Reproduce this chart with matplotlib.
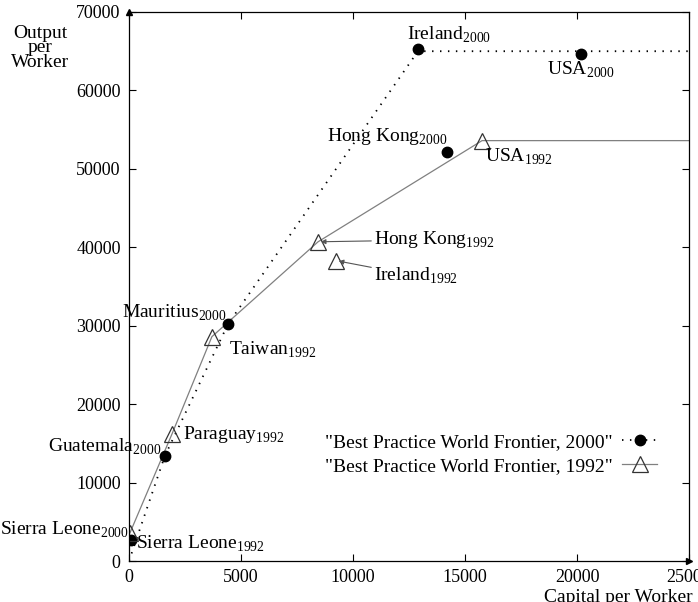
import matplotlib
matplotlib.use('Agg')
import matplotlib.pyplot as plt
from matplotlib.lines import Line2D

plt.rcParams['font.family'] = 'Liberation Serif'
plt.rcParams['mathtext.fontset'] = 'custom'
plt.rcParams['mathtext.rm'] = 'Liberation Serif'

# 2000 observations (capital per worker, output per worker)
names_2000 = ['Sierra Leone', 'Guatemala', 'Mauritius', 'Ireland', 'Hong Kong', 'USA']
k_2000 = [90, 1600, 4420, 12900, 14200, 20180]
y_2000 = [2700, 13400, 30200, 65300, 52200, 64700]

# 1992 observations
names_1992 = ['Sierra Leone', 'Paraguay', 'Taiwan', 'Hong Kong', 'Ireland', 'USA']
k_1992 = [45, 1920, 3700, 8440, 9240, 15760]
y_1992 = [3600, 16200, 28600, 40700, 38300, 53600]

# frontier segments
front_k_2000 = [0, 1600, 4420, 12900, 25000]
front_y_2000 = [0, 13400, 30200, 65000, 65000]
front_k_1992 = [45, 1920, 3700, 8440, 15760, 25000]
front_y_1992 = [3600, 16200, 28600, 40700, 53600, 53600]

xticks = [0, 5000, 10000, 15000, 20000, 25000]
yticks = [0, 10000, 20000, 30000, 40000, 50000, 60000, 70000]

fig = plt.figure(figsize=(6.98, 6.02), dpi=100)
ax = fig.add_axes([129/698, 1-561/602, 560/698, 549/602])

ax.plot(front_k_2000, front_y_2000, color='black', lw=1.3, dashes=(0.8, 3.6))
ax.plot(front_k_1992, front_y_1992, color='#808080', lw=0.9)
ax.plot(k_2000, y_2000, 'o', color='black', ms=7.5, ls='none')
ax.plot(k_1992, y_1992, '^', mfc='none', mec='#333333', mew=0.9, ms=12, ls='none')

ax.set_xlim(0, 25000)
ax.set_ylim(0, 70000)
ax.set_xticks(xticks)
ax.set_yticks(yticks)
ax.tick_params(direction='in', length=5, width=0.8, top=True, right=True,
               labelsize=13, pad=6)
for s in ax.spines.values():
    s.set_linewidth(0.9)

# axis arrows
ax.plot(0, 1, '^', color='black', ms=4, transform=ax.transAxes, clip_on=False)
ax.plot(1, 0, '>', color='black', ms=4, transform=ax.transAxes, clip_on=False)

fs = 14
def sub(name, yr):
    return name + r'$_{\mathrm{' + yr + '}}$'

ax.text(14290, 67090, sub('Ireland', '2000'), ha='center', va='center', fontsize=fs)
ax.text(20180, 62630, sub('USA', '2000'), ha='center', va='center', fontsize=fs)
ax.text(11520, 54080, sub('Hong Kong', '2000'), ha='center', va='center', fontsize=fs)
ax.text(15900, 51530, sub('USA', '1992'), ha='left', va='center', fontsize=fs)
ax.text(4375, 31630, sub('Mauritius', '2000'), ha='right', va='center', fontsize=fs)
ax.text(4460, 26910, sub('Taiwan', '1992'), ha='left', va='center', fontsize=fs)
ax.text(2410, 16070, sub('Paraguay', '1992'), ha='left', va='center', fontsize=fs)
ax.text(1430, 14540, sub('Guatemala', '2000'), ha='right', va='center', fontsize=fs)
ax.text(20, 3950, sub('Sierra Leone', '2000'), ha='right', va='center', fontsize=fs)
ax.text(310, 2170, sub('Sierra Leone', '1992'), ha='left', va='center', fontsize=fs)

arrow = dict(arrowstyle='-|>', color='#555555', lw=0.8, mutation_scale=7,
             shrinkA=0, shrinkB=2)
ax.annotate(sub('Hong Kong', '1992'), xy=(8440, 40700), xytext=(10940, 40940),
            ha='left', va='center', fontsize=fs, arrowprops=arrow)
ax.annotate(sub('Ireland', '1992'), xy=(9240, 38300), xytext=(10940, 36350),
            ha='left', va='center', fontsize=fs, arrowprops=arrow)

handles = [
    Line2D([], [], color='black', lw=1.3, dashes=(0.8, 3.6), marker='o', ms=7.5),
    Line2D([], [], color='#808080', lw=0.9, marker='^', mfc='none',
           mec='#333333', mew=0.9, ms=12),
]
ax.legend(handles, ['"Best Practice World Frontier, 2000"',
                    '"Best Practice World Frontier, 1992"'],
          loc='upper right', bbox_to_anchor=(0.943, 0.232), frameon=False,
          markerfirst=False, fontsize=fs, handlelength=1.8, handletextpad=0.5,
          borderaxespad=0, borderpad=0, labelspacing=0.3)

fig.text(40/698, 1-48/602, 'Output\nper\nWorker', ha='center', va='center',
         fontsize=fs, linespacing=0.8)
fig.text(618/698, 1-598/602, 'Capital per Worker', ha='center', va='center',
         fontsize=fs)

fig.savefig('out.png', dpi=100)
